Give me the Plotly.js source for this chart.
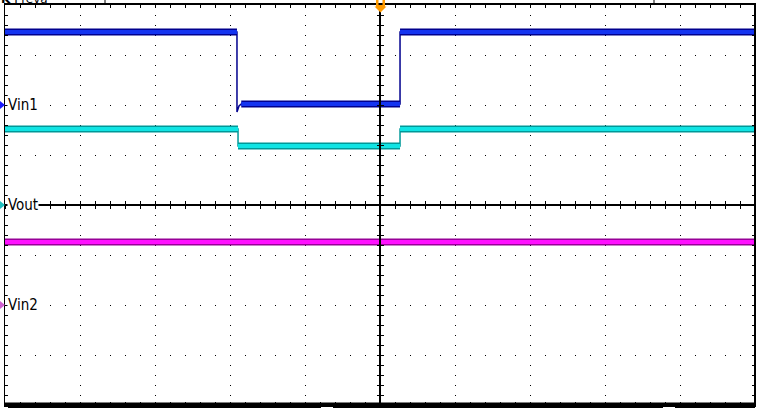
<!DOCTYPE html>
<html>
<head>
<meta charset="utf-8">
<script src="https://cdn.plot.ly/plotly-3.0.1.min.js"></script>
<style>html,body{margin:0;padding:0;background:#fff;}#chart{width:760px;height:408px;}</style>
</head>
<body>
<div id="chart"></div>
<script>
// Time axis in divisions (centre = 0), vertical in divisions (centre = 0)
const ch1Time = [-5, -1.907, -1.907, -1.88, -1.85, 0.267, 0.267, 5];
const ch1Vals = [3.46, 3.46, 1.86, 1.98, 2.02, 2.02, 3.46, 3.46];
const ch2Time = [-5, -1.893, -1.893, 0.267, 0.267, 5];
const ch2Vals = [1.52, 1.52, 1.18, 1.18, 1.52, 1.52];
const ch3Time = [-5, 5];
const ch3Vals = [-0.74, -0.74];
const channelLabels = ["Vin1", "Vout", "Vin2"];
const labelLevels = [2, 0, -2];
const topText = "Preva";

function px(x){return (x-5)/750;}
function py(y){return (405-y)/400;}

const traces = [];
function band(x, y, outer, inner){
  traces.push({x:x, y:y, mode:'lines', line:{color:outer, width:1.5}, hoverinfo:'skip', showlegend:false});
  const hx = [], hy = [];
  for (let i=0;i<x.length-1;i++){
    if (y[i]===y[i+1] && x[i+1]>x[i]) { hx.push(x[i], x[i+1], null); hy.push(y[i], y[i+1], null); }
  }
  traces.push({x:hx, y:hy, mode:'lines', line:{color:outer, width:7}, hoverinfo:'skip', showlegend:false, connectgaps:false});
  traces.push({x:hx, y:hy, mode:'lines', line:{color:inner, width:4}, hoverinfo:'skip', showlegend:false, connectgaps:false});
}
band(ch1Time, ch1Vals, '#00008e', '#1434f0');
band(ch2Time, ch2Vals, '#009898', '#10e4e4');
band(ch3Time, ch3Vals, '#980098', '#ff10ff');
['2','3'].forEach(k=>traces.push({x:[null], y:[null], xaxis:'x'+k, yaxis:'y'+k, hoverinfo:'skip', showlegend:false}));

const centreAx = {range:[-5,5], showgrid:false, zeroline:false, showticklabels:false, dtick:0.2, ticklen:3, tickwidth:1, tickcolor:'#000', layer:'above traces'};
const centreAy = {range:[-4,4], showgrid:false, zeroline:false, showticklabels:false, dtick:0.2, ticklen:3, tickwidth:1, tickcolor:'#000', layer:'above traces'};

const labelFont = {family:'"Liberation Sans Narrow", "DejaVu Sans Condensed", "Roboto Condensed", "DejaVu Sans", sans-serif', size:15, color:'#000'};
const annotations = channelLabels.map((t,i)=>({
  text:t, xref:'paper', yref:'y', x:px(7), y:labelLevels[i], xanchor:'left', yanchor:'middle',
  showarrow:false, font:labelFont, bgcolor:'#fff', borderpad:0
}));
annotations.push({text:'<b>K</b> '+topText, xref:'paper', yref:'paper', x:px(0), y:py(7), xanchor:'left', yanchor:'bottom',
  showarrow:false, font:{family:'DejaVu Sans', size:12, color:'#000'}, borderpad:0});

const markerColors = ['#1a1aff', '#20c0c0', '#d060d0'];
const shapes = [];
[105,205,305].forEach((yy,i)=>{
  shapes.push({type:'path', xref:'paper', yref:'paper', path:`M ${px(0)},${py(yy-4)} L ${px(5)},${py(yy)} L ${px(0)},${py(yy+4)} Z`, fillcolor:markerColors[i], line:{width:0}});
});
function poly(pts){ return 'M '+pts.map(p=>px(p[0])+','+py(p[1])).join(' L ')+' Z'; }
shapes.push({type:'path', xref:'paper', yref:'paper', path:poly([[376,0],[376,7],[385,7],[385,0],[382.5,0],[382.5,5],[378.5,5],[378.5,0]]), fillcolor:'#ff9a00', line:{width:0}});
shapes.push({type:'path', xref:'paper', yref:'paper', path:poly([[374.5,6.5],[386.5,6.5],[380.5,12.5]]), fillcolor:'#ff9a00', line:{width:0}});
[105,654].forEach(xx=>shapes.push({type:'line', xref:'paper', yref:'paper', x0:px(xx), x1:px(xx), y0:py(5), y1:py(-2), line:{color:'#000', width:1}}));
shapes.push({type:'line', xref:'paper', yref:'paper', x0:px(5), x1:px(755), y0:py(404), y1:py(404), line:{color:'#000', width:3}});
shapes.push({type:'line', xref:'paper', yref:'paper', x0:px(755), x1:px(755), y0:py(5), y1:py(405), line:{color:'#000', width:2}});
[[8,321],[333,663],[675,755]].forEach(s=>shapes.push({type:'line', xref:'paper', yref:'paper', x0:px(s[0]), x1:px(s[1]), y0:py(407.5), y1:py(407.5), line:{color:'#000', width:1}}));

const layout = {
  width:760, height:408,
  margin:{l:5, r:5, t:5, b:3, pad:0},
  paper_bgcolor:'#fff', plot_bgcolor:'#fff',
  showlegend:false,
  xaxis:{range:[-5,5], dtick:1, showgrid:true, gridcolor:'#000', gridwidth:1, griddash:'1px,9px', zeroline:false,
    showline:true, linecolor:'#000', linewidth:2, mirror:'ticks', ticks:'inside', ticklen:3, tickcolor:'#000',
    minor:{dtick:0.2, ticks:'inside', ticklen:3, tickcolor:'#000', showgrid:false}, showticklabels:false, fixedrange:true},
  yaxis:{range:[-4,4], dtick:1, showgrid:true, gridcolor:'#000', gridwidth:1, griddash:'1px,14px', zeroline:false,
    showline:true, linecolor:'#000', linewidth:1, mirror:'ticks', ticks:'inside', ticklen:3, tickcolor:'#000',
    minor:{dtick:0.2, ticks:'inside', ticklen:3, tickcolor:'#000', showgrid:false}, showticklabels:false, fixedrange:true},
  xaxis2:Object.assign({}, centreAx, {overlaying:'x', anchor:'free', position:0.5, ticks:'inside', showline:true, linecolor:'#000', linewidth:2}),
  xaxis3:Object.assign({}, centreAx, {overlaying:'x', anchor:'free', position:0.5, ticks:'outside', showline:false}),
  yaxis2:Object.assign({}, centreAy, {overlaying:'y', anchor:'free', position:0.5, ticks:'inside', showline:true, linecolor:'#000', linewidth:2}),
  yaxis3:Object.assign({}, centreAy, {overlaying:'y', anchor:'free', position:0.5, ticks:'outside', showline:false}),
  annotations:annotations,
  shapes:shapes
};
Plotly.newPlot('chart', traces, layout, {staticPlot:true, displayModeBar:false});
</script>
</body>
</html>
